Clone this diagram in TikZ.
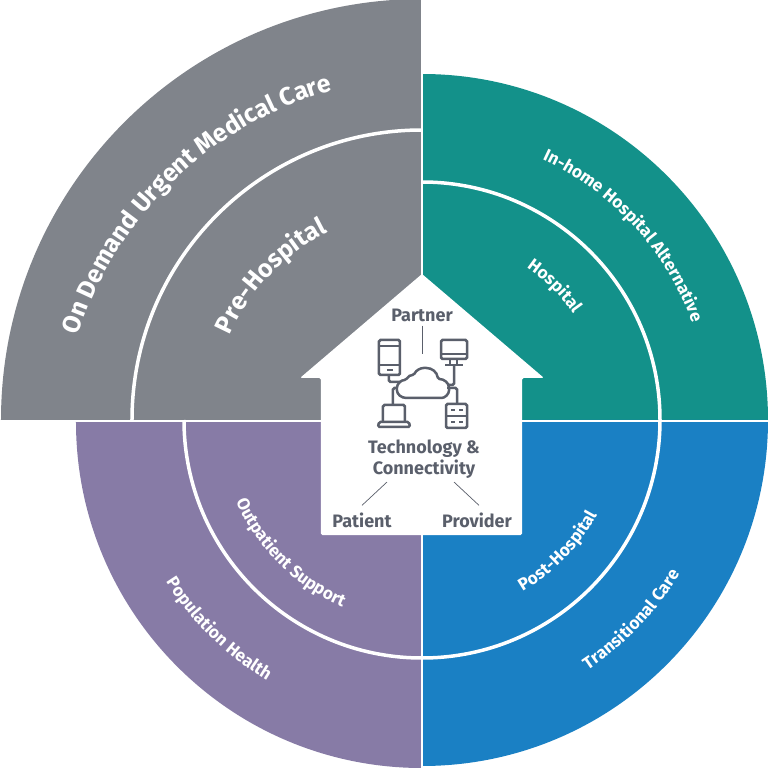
\documentclass[tikz,border=0pt]{standalone}
\usepackage{fontspec}
\setmainfont{Fira Sans}
\usetikzlibrary{decorations.text}
\definecolor{sectorGray}{HTML}{80848B}
\definecolor{sectorTeal}{HTML}{13918A}
\definecolor{sectorBlue}{HTML}{1A80C4}
\definecolor{sectorPurple}{HTML}{877BA6}
\definecolor{houseInk}{HTML}{5A5F6B}
\newcommand{\bigLabelFont}{\fontsize{25}{29}\selectfont\bfseries\color{white}}
\newcommand{\smallLabelFont}{\fontsize{17.2}{21}\selectfont\bfseries\color{white}}
\begin{document}
\begin{tikzpicture}[x=1pt,y=1pt]
\tikzset{
    ringGap/.style={draw=white,line width=3.5pt},
    axisGap/.style={draw=white,line width=2pt},
    bigLabel/.style={decorate,decoration={text along path,text align=center,text={|\bigLabelFont|#1}}},
    smallLabel/.style={decorate,decoration={text along path,text align=center,text={|\smallLabelFont|#1}}},
    houseText/.style={text=houseInk,font=\fontsize{18}{21}\selectfont\bfseries,align=center,inner sep=1pt},
    houseLine/.style={draw=houseInk,line width=0.7pt},
    iconLine/.style={draw=houseInk,line width=2.5pt,rounded corners=1.5pt},
}
\useasboundingbox[fill=white] (-422,-348) rectangle (346,420);

% sectors
\fill[sectorGray] (0,0) -- (-421pt,0) arc[start angle=180,end angle=90,radius=421pt] -- cycle;
\fill[sectorTeal] (0,0) -- (0,346pt) arc[start angle=90,end angle=0,radius=346pt] -- cycle;
\fill[sectorBlue] (0,0) -- (346pt,0) arc[start angle=0,end angle=-90,radius=346pt] -- cycle;
\fill[sectorPurple] (0,0) -- (0,-348pt) arc[start angle=-90,end angle=-180,radius=346pt] -- cycle;

% inner rings
\draw[ringGap] (-290pt,0) arc[start angle=180,end angle=90,radius=290pt];
\draw[ringGap] (0,238pt) arc[start angle=90,end angle=-180,radius=238pt];
\draw[axisGap] (0,-348) -- (0,420);
\draw[axisGap] (-346,-0.7) -- (346,-0.7);

% curved labels
\path[bigLabel={On Demand Urgent Medical Care}] (11,-29.4) ++(161.3:373pt) arc[start angle=161.3,end angle=106.5,radius=373pt];
\path[bigLabel={Pre-Hospital}] (155.6:210pt) arc[start angle=155.6,end angle=117.2,radius=210pt];
\path[smallLabel={In-home Hospital Alternative}] (65:287pt) arc[start angle=65,end angle=20,radius=287pt];
\path[smallLabel={Hospital}] (55.3:185pt) arc[start angle=55.3,end angle=35.3,radius=185pt];
\path[smallLabel={Transitional Care}] (-55.8:300pt) arc[start angle=-55.8,end angle=-31.4,radius=300pt];
\path[smallLabel={Post-Hospital}] (-59.2:199pt) arc[start angle=-59.2,end angle=-28.8,radius=199pt];
\path[smallLabel={Population Health}] (212.6:303pt) arc[start angle=212.6,end angle=238.9,radius=303pt];
\path[smallLabel={Outpatient Support}] (203.8:203pt) arc[start angle=203.8,end angle=246.7,radius=203pt];

\begin{scope}[shift={(-422pt,420pt)},y=-1pt]
% house
\fill[white,rounded corners=1.5pt] (422,274) -- (544,378) -- (522,378) -- (522,535) -- (321,535) -- (321,378) -- (300,378) -- cycle;

\node[houseText] (partner) at (422,315) {Partner};
\node[houseText] (tech) at (424,459.5) {Technology \&\\Connectivity};
\node[houseText] (patient) at (362,520) {Patient};
\node[houseText] (provider) at (477,520) {Provider};
\coordinate (cloudtop) at (422,354);
\draw[houseLine] ([yshift=-3pt]partner.south) -- (cloudtop);
\draw[houseLine] ([xshift=-37pt,yshift=-2pt]tech.south) -- ([yshift=6pt]patient.north);
\draw[houseLine] ([xshift=30pt,yshift=-2pt]tech.south) -- ([xshift=2pt,yshift=6pt]provider.north);

% phone
\draw[iconLine] (379,340) rectangle (400,375);
\draw[iconLine] (379,346) -- (400,346);
\draw[iconLine] (379,365) -- (400,365);
\draw[houseInk,line width=1.8pt] (387,370) -- (393,370);
% monitor
\draw[iconLine] (441,340) rectangle (467,359);
\draw[iconLine] (441,354) -- (467,354);
\draw[iconLine] (450,359) -- (450,364) (457,359) -- (457,364);
\draw[iconLine] (445,365) -- (463,365);
% cloud
\draw[iconLine] (408,398) .. controls (401,398) and (397,394) .. (397,389) .. controls (397,384) and (401,380) .. (406,380) .. controls (408,376) and (411,375) .. (414,375) .. controls (416,370) and (421,368) .. (425,368) .. controls (432,368) and (437,372) .. (438,379) .. controls (444,379) and (449,383) .. (449,389) .. controls (449,394) and (445,398) .. (440,398) -- cycle;
% laptop
\draw[iconLine] (383,422) -- (383,405) -- (405,405) -- (405,422);
\draw[iconLine] (379,422) -- (409,422) -- (410,427) -- (378,427) -- cycle;
% server
\draw[iconLine] (446,404) rectangle (467,428);
\draw[iconLine] (446,416) -- (467,416);
\draw[houseInk,line width=1.8pt] (451,410) -- (455,410) (459,410) -- (463,410) (451,422) -- (455,422) (459,422) -- (463,422);
% icon links
\draw[iconLine] (389,375) -- (389,382) -- (401,382);
\draw[iconLine] (454,365) -- (454,385) -- (448,385);
\draw[iconLine] (393,405) -- (393,388) -- (398,388);
\draw[iconLine] (457,404) -- (457,388) -- (447,388);
\end{scope}
\end{tikzpicture}
\end{document}
